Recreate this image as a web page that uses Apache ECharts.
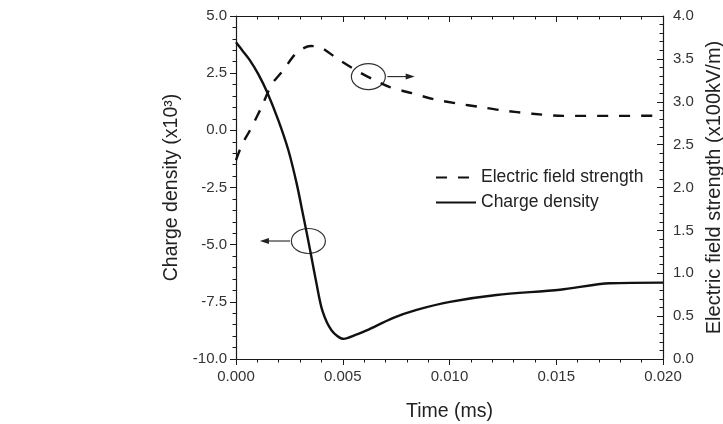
<!DOCTYPE html>
<html>
<head>
<meta charset="utf-8">
<script src="https://cdn.jsdelivr.net/npm/echarts@6/dist/echarts.min.js"></script>
<style>html,body{margin:0;padding:0;background:#fff}#c{width:723px;height:424px}</style>
</head>
<body>
<div id="c"></div>
<script>
// Time (ms)
var chargeTime = [0, 0.00034, 0.00066, 0.00105, 0.00145, 0.00198, 0.00245, 0.00284, 0.00316, 0.00347, 0.00375, 0.00405, 0.00448, 0.00505, 0.0056, 0.00612, 0.00737, 0.00846, 0.01002, 0.0122, 0.01518, 0.01752, 0.020];
// Charge density (x10^3), left axis
var chargeValues = [3.85, 3.44, 3.05, 2.45, 1.69, 0.45, -0.86, -2.32, -3.78, -5.23, -6.6, -7.9, -8.75, -9.12, -8.95, -8.75, -8.2, -7.85, -7.5, -7.2, -6.97, -6.69, -6.66];
var fieldTime = [0, 0.0003, 0.00066, 0.0012, 0.00167, 0.00222, 0.00284, 0.0035, 0.0040, 0.0047, 0.0056, 0.0065, 0.00721, 0.00823, 0.00927, 0.01035, 0.0114, 0.01244, 0.01388, 0.01533, 0.0175, 0.020];
// Electric field strength (x100kV/m), right axis
var fieldValues = [2.32, 2.51, 2.67, 2.94, 3.20, 3.37, 3.57, 3.65, 3.63, 3.51, 3.37, 3.25, 3.17, 3.10, 3.03, 2.98, 2.94, 2.90, 2.86, 2.835, 2.835, 2.837];
var xTicks = {min: 0, max: 0.02, interval: 0.005};
var yLeftTicks = {min: -10, max: 5, interval: 2.5};
var yRightTicks = {min: 0, max: 4, interval: 0.5};
var seriesNames = ['Electric field strength', 'Charge density'];

function zip(a, b) { return a.map(function (v, i) { return [v, b[i]]; }); }

var FONT = 'Liberation Sans, Arial, sans-serif';
var AX = '#1a1a1a';
var chart = echarts.init(document.getElementById('c'));
var tickLabel = {color: '#333', fontSize: 15, fontFamily: FONT};
chart.setOption({
  animation: false,
  backgroundColor: '#fff',
  grid: {left: 236, right: 60, top: 16, bottom: 65, containLabel: false, outerBoundsMode: 'none'},
  legend: {
    left: 430, top: 163, orient: 'vertical', itemWidth: 40, itemHeight: 14, itemGap: 6,
    itemStyle: {color: 'rgba(0,0,0,0)', borderWidth: 0, opacity: 0},
    textStyle: {fontSize: 17.5, fontFamily: FONT, color: '#222', lineHeight: 19},
    data: seriesNames
  },
  xAxis: [{
    type: 'value', min: xTicks.min, max: xTicks.max, interval: xTicks.interval,
    name: 'Time (ms)', nameLocation: 'middle', nameGap: 43,
    nameTextStyle: {fontSize: 19.5, fontFamily: FONT, color: '#222'},
    axisLine: {onZero: false, lineStyle: {color: AX, width: 1.2}},
    axisTick: {inside: false, length: 6, lineStyle: {color: AX}},
    minorTick: {show: true, splitNumber: 5, length: 3.5, lineStyle: {color: AX}},
    splitLine: {show: false},
    axisLabel: Object.assign({margin: 10, formatter: function (v) { return v.toFixed(3); }}, tickLabel)
  }, {
    type: 'value', position: 'top', min: xTicks.min, max: xTicks.max, interval: xTicks.interval,
    axisLine: {onZero: false, lineStyle: {color: AX, width: 1.2}},
    axisTick: {inside: true, length: 6, lineStyle: {color: AX}},
    minorTick: {show: true, splitNumber: 5, length: 3.5, lineStyle: {color: AX}},
    splitLine: {show: false},
    axisLabel: {show: false}
  }],
  yAxis: [{
    type: 'value', position: 'left', min: yLeftTicks.min, max: yLeftTicks.max, interval: yLeftTicks.interval,
    name: 'Charge density (x10³)', nameLocation: 'middle', nameGap: 53,
    nameTextStyle: {fontSize: 19.5, fontFamily: FONT, color: '#222'},
    axisLine: {show: true, onZero: false, lineStyle: {color: AX, width: 1.2}},
    axisTick: {show: true, inside: false, length: 6, lineStyle: {color: AX}},
    minorTick: {show: true, splitNumber: 5, length: 3.5, lineStyle: {color: AX}},
    splitLine: {show: false},
    axisLabel: Object.assign({margin: 9, formatter: function (v) { return v.toFixed(1); }}, tickLabel)
  }, {
    type: 'value', position: 'right', min: yRightTicks.min, max: yRightTicks.max, interval: yRightTicks.interval,
    name: 'Electric field strength (x100kV/m)', nameLocation: 'middle', nameGap: 38,
    nameTextStyle: {fontSize: 20, fontFamily: FONT, color: '#222'},
    axisLine: {show: true, onZero: false, lineStyle: {color: AX, width: 1.2}},
    axisTick: {show: true, inside: true, length: 6, lineStyle: {color: AX}},
    minorTick: {show: true, splitNumber: 5, length: 3.5, lineStyle: {color: AX}},
    splitLine: {show: false},
    axisLabel: Object.assign({margin: 10, formatter: function (v) { return v.toFixed(1); }}, tickLabel)
  }],
  series: [{
    name: seriesNames[0], type: 'line', xAxisIndex: 0, yAxisIndex: 1,
    data: zip(fieldTime, fieldValues), smooth: 0.3, symbol: 'none',
    lineStyle: {color: '#111', width: 2.4, type: [11, 11]}, itemStyle: {color: '#111'}
  }, {
    name: seriesNames[1], type: 'line', xAxisIndex: 0, yAxisIndex: 0,
    data: zip(chargeTime, chargeValues), smooth: 0.3, symbol: 'none',
    lineStyle: {color: '#111', width: 2.4, type: 'solid'}, itemStyle: {color: '#111'}
  }]
});

// annotation circles and arrows, anchored in data space (left axis units)
function px(t, v) { return chart.convertToPixel({xAxisIndex: 0, yAxisIndex: 0}, [t, v]); }
function arrow(from, to) {
  var dx = to[0] - from[0], dir = dx > 0 ? 1 : -1;
  var tip = to[0];
  return [{
    type: 'line', shape: {x1: from[0], y1: from[1], x2: tip - dir * 6, y2: to[1]},
    style: {stroke: '#222', lineWidth: 1.1}, silent: true
  }, {
    type: 'polygon', shape: {points: [[tip, to[1]], [tip - dir * 9, to[1] - 3], [tip - dir * 9, to[1] + 3]]},
    style: {fill: '#222'}, silent: true
  }];
}
var c1 = px(0.0062, 2.35), c2 = px(0.00339, -4.84);
var a1s = px(0.00709, 2.35), a1e = px(0.00837, 2.35);
var a2s = px(0.00253, -4.84), a2e = px(0.00112, -4.84);
var g = [
  {type: 'ellipse', shape: {cx: c1[0], cy: c1[1], rx: 17, ry: 13}, style: {fill: 'none', stroke: '#333', lineWidth: 1.2}, silent: true},
  {type: 'ellipse', shape: {cx: c2[0], cy: c2[1], rx: 17, ry: 12.5}, style: {fill: 'none', stroke: '#333', lineWidth: 1.2}, silent: true}
].concat(arrow(a1s, a1e)).concat(arrow(a2s, a2e));
chart.setOption({graphic: g});
</script>
</body>
</html>
